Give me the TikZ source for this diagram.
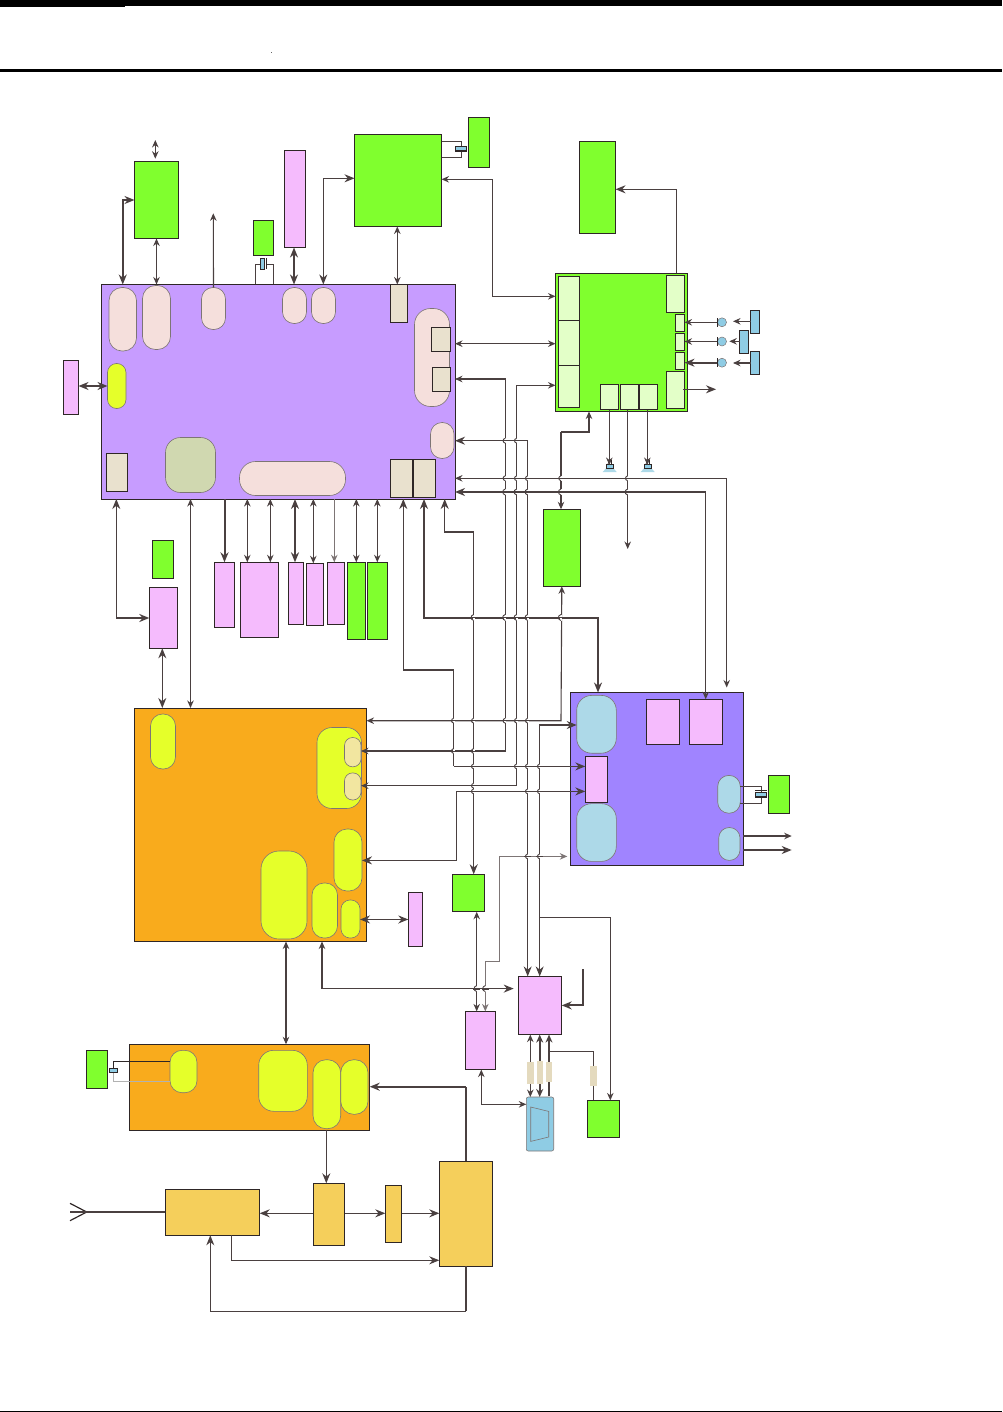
\documentclass[tikz,border=0pt]{standalone}
\usepackage{tikz}
\usepackage{xcolor}
\usetikzlibrary{arrows.meta}
\definecolor{wirecol}{RGB}{74,64,64}
\definecolor{softcol}{RGB}{125,117,117}
\definecolor{edgecol}{RGB}{46,38,38}
\definecolor{chipgreen}{RGB}{128,255,46}
\definecolor{palegreen}{RGB}{227,255,200}
\definecolor{chippink}{RGB}{245,187,253}
\definecolor{chippurple}{RGB}{199,156,255}
\definecolor{chipviolet}{RGB}{160,132,255}
\definecolor{chiporange}{RGB}{249,171,28}
\definecolor{rfyellow}{RGB}{245,207,91}
\definecolor{palerose}{RGB}{245,223,220}
\definecolor{beige}{RGB}{233,225,206}
\definecolor{tagbeige}{RGB}{228,218,190}
\definecolor{lime}{RGB}{229,255,42}
\definecolor{sage}{RGB}{208,216,176}
\definecolor{iceblue}{RGB}{173,217,232}
\definecolor{skyblue}{RGB}{143,204,228}
\definecolor{straw}{RGB}{242,230,160}
\tikzset{
  block/.style={rectangle, draw=edgecol, line width=1pt, inner sep=0pt, outer sep=0pt},
  blob/.style={rectangle, draw=softcol, line width=.6pt, rounded corners=#1, inner sep=0pt, outer sep=0pt},
  wire/.style={draw=wirecol, line width=1.1pt, >={Stealth[length=7.5pt,width=6.5pt]}},
  softwire/.style={wire, draw=softcol},
  bigtip/.style={>={Stealth[length=10pt,width=8pt]}},
  bus/.style={wire, line width=2pt, bigtip},
}
% #1 style, #2 name, then left, top, right, bottom
\newcommand{\chip}[6]{\node[#1, minimum width={(#5-#3)*1pt}, minimum height={(#6-#4)*1pt}] (#2) at ({(#3+#5)/2},{(#4+#6)/2}) {};}

\begin{document}
\begin{tikzpicture}[x=1pt,y=-1pt]
\useasboundingbox (0,0) rectangle (1002,1412);
% Page rules
\fill[black] (0,0) rectangle (1002,6);
\fill[black] (0,6) rectangle (125,6.5);
\fill[black] (0,69) rectangle (1002,72);
\fill[black] (0,1410.5) rectangle (1002,1412);
\fill[black!60] (270.5,52) rectangle (272,53.5);

% Main processor and its blobs
\chip{block, fill=chippurple}{proc}{101.5}{284.5}{455}{499}
\chip{blob=13, fill=palerose}{usbpill}{109}{287.5}{136.5}{351}
\chip{blob=13, fill=palerose}{uartpill}{142.5}{285.5}{170.5}{349.5}
\chip{blob=11.5, fill=palerose}{gpspill}{201.5}{287.5}{225.5}{329.5}
\chip{blob=11.5, fill=palerose}{campill}{282.5}{287.5}{306.5}{323.5}
\chip{blob=11.5, fill=palerose}{btpill}{311.5}{287.5}{335.5}{323.5}
\chip{block, fill=beige}{btport}{390.5}{284.5}{407.5}{322.5}
\chip{blob=16, fill=palerose}{sidepill}{414.5}{308.5}{449.5}{406.5}
\chip{block, fill=beige}{sideone}{431.5}{327.5}{450.5}{351.5}
\chip{block, fill=beige}{sidetwo}{432.5}{367.5}{450.5}{391.5}
\chip{blob=11.5, fill=palerose}{keypill}{430.5}{422.5}{454}{458.5}
\chip{block, fill=beige}{busone}{390.5}{459.5}{412.5}{497.5}
\chip{block, fill=beige}{bustwo}{413.5}{459.5}{435.5}{497.5}
\chip{blob=9, fill=lime}{simpill}{107.5}{363.5}{126}{408.5}
\chip{block, fill=beige}{rtcport}{106.5}{453.5}{127.5}{491.5}
\chip{blob=15, fill=sage}{corepill}{165.5}{437.5}{215.5}{492.5}
\chip{blob=16, fill=palerose}{mempill}{239.5}{461.5}{345.5}{495.5}

% Parts round the processor
\chip{block, fill=chipgreen}{usbchip}{134.5}{161.5}{178.5}{238.5}
\chip{block, fill=chipgreen}{clockchip}{253}{221}{273.5}{255.5}
\chip{block, fill=chippink}{camport}{284}{150.5}{305.5}{247.5}
\chip{block, fill=chipgreen}{btchip}{354.5}{134.5}{441.5}{226.5}
\chip{block, fill=chipgreen}{btclock}{468.5}{118}{489.5}{167.5}
\chip{block, fill=chippink}{simport}{63.5}{360.5}{78.5}{414.5}
\chip{block, fill=chipgreen}{ampchip}{579.5}{141.5}{615.5}{233.5}
\chip{block, fill=chipgreen}{fmchip}{543.3}{509.3}{580.3}{586.3}
\chip{block, fill=chipgreen}{rtcchip}{152.3}{540.3}{173.7}{578.7}
\chip{block, fill=chippink}{levelchip}{149.3}{587.3}{177.7}{648.3}
\chip{block, fill=chippink}{memone}{214.3}{562.3}{234.7}{627.3}
\chip{block, fill=chippink}{memtwo}{240.3}{562.3}{278.7}{637.3}
\chip{block, fill=chippink}{memthree}{288.3}{562.3}{303.7}{624.3}
\chip{block, fill=chippink}{memfour}{306.3}{563.3}{323.7}{625.3}
\chip{block, fill=chippink}{memfive}{327.3}{562.3}{344.7}{624.3}
\chip{block, fill=chipgreen}{flashone}{347.3}{562.3}{365.7}{639.3}
\chip{block, fill=chipgreen}{flashtwo}{367.3}{562.3}{387.3}{639.3}

% Audio block
\chip{block, fill=chipgreen}{audio}{555.5}{273.5}{687.5}{411.5}
\chip{block, fill=palegreen}{audleft}{558.5}{276.5}{579.5}{320.5}
\chip{block, fill=palegreen}{audmid}{558.5}{320.5}{579.5}{365}
\chip{block, fill=palegreen}{audlow}{558.5}{365}{579.5}{407.5}
\chip{block, fill=palegreen}{audtop}{666.5}{275.5}{684.5}{312.5}
\chip{block, fill=palegreen}{micone}{675.5}{314.5}{684.5}{331.5}
\chip{block, fill=palegreen}{mictwo}{675.5}{333.5}{684.5}{350.5}
\chip{block, fill=palegreen}{micthree}{675.5}{352.5}{684.5}{369.5}
\chip{block, fill=palegreen}{audout}{666.5}{371.5}{684.5}{408.5}
\chip{block, fill=palegreen}{spkone}{600.5}{384.5}{618.5}{409.5}
\chip{block, fill=palegreen}{spkmid}{620.5}{384.5}{638.5}{409.5}
\chip{block, fill=palegreen}{spktwo}{639.5}{384.5}{657.5}{409.5}
\chip{block, fill=skyblue}{jackone}{750.5}{310.3}{759.5}{333.3}
\chip{block, fill=skyblue}{jacktwo}{739.5}{330.3}{748.5}{353.3}
\chip{block, fill=skyblue}{jackthree}{750.5}{351.3}{759.5}{374.3}
\foreach \mname/\my in {mica/322.3, micb/341.5, micc/362.7} {
  \node[circle, draw=softcol, fill=skyblue, line width=.5pt, minimum size=9pt, inner sep=0pt, outer sep=0pt] (\mname) at (722,\my) {};
  \draw[edgecol, line width=1pt] (717.3,\my-4.5) -- (717.3,\my+4.5);
}
\foreach \sx in {609.7,647.7} {
  \fill[iceblue] (\sx-7,472) -- (\sx-3.7,468.3) -- (\sx+3.7,468.3) -- (\sx+7,472) -- cycle;
  \draw[edgecol, line width=.7pt, fill=skyblue] (\sx-3.7,464.3) rectangle (\sx+3.7,468.3);
  \draw[edgecol, line width=.7pt] (\sx-1.7,464.3) -- (\sx-.5,460) (\sx+1.7,464.3) -- (\sx+1.7,460);
}

% Second processor
\chip{block, fill=chiporange}{modem}{134.5}{708}{366.5}{941.5}
\chip{blob=12, fill=lime}{modemsim}{150.5}{714}{175.5}{769}
\chip{blob=15, fill=lime}{modemaud}{317}{727.5}{361.5}{808.5}
\chip{blob=8, fill=straw}{modemone}{344.5}{737.5}{361}{766.8}
\chip{blob=8, fill=straw}{modemtwo}{344.5}{772.9}{361}{800}
\chip{blob=13, fill=lime}{modemkey}{334}{829}{362}{891}
\chip{blob=18, fill=lime}{modemcore}{261}{851}{307}{939}
\chip{blob=12, fill=lime}{modemmem}{312}{883}{337.5}{938}
\chip{blob=9, fill=lime}{modemusb}{341}{900}{360}{938}
\chip{block, fill=chippink}{modemport}{408.3}{892.5}{422.7}{946.4}

% Radio
\chip{block, fill=chiporange}{radio}{129.3}{1044.3}{369.7}{1130.3}
\chip{blob=12, fill=lime}{radioclk}{170}{1050.3}{197}{1092.7}
\chip{blob=15, fill=lime}{radiocore}{258.7}{1050.3}{307.3}{1111.3}
\chip{blob=13, fill=lime}{radiotx}{313}{1059.7}{340.7}{1128.7}
\chip{blob=13, fill=lime}{radiorx}{340.7}{1059.7}{368}{1114.3}
\chip{block, fill=chipgreen}{radiotcxo}{86.3}{1050.3}{107.7}{1088.7}
\chip{block, fill=rfyellow}{frontend}{165.3}{1189.3}{259.7}{1235.3}
\chip{block, fill=rfyellow}{driver}{313.3}{1183.3}{344.7}{1245.7}
\chip{block, fill=rfyellow}{filter}{385.3}{1185.3}{401.7}{1242.3}
\chip{block, fill=rfyellow}{poweramp}{439.3}{1161.3}{492.7}{1266.3}

% Power block
\chip{block, fill=chipviolet}{power}{570.3}{692.5}{743.3}{865.4}
\chip{blob=15, fill=iceblue}{powerone}{576.7}{695.4}{616.3}{753.2}
\chip{blob=15, fill=iceblue}{powertwo}{576.7}{803.6}{616.3}{861.4}
\chip{block, fill=chippink}{powerport}{585.3}{756.4}{607.7}{802.5}
\chip{block, fill=chippink}{regone}{646.3}{699.3}{679.7}{744.6}
\chip{block, fill=chippink}{regtwo}{689.3}{699.3}{722.7}{744.6}
\chip{blob=11, fill=iceblue}{powerclk}{717.7}{775.4}{740.3}{813.2}
\chip{blob=10.5, fill=iceblue}{powerout}{718.7}{827.5}{740}{860.4}
\chip{block, fill=chipgreen}{powerxtal}{768.3}{775.4}{789.3}{813.6}

% Lower right parts
\chip{block, fill=chipgreen}{sensor}{452.3}{874.3}{484.7}{911.8}
\chip{block, fill=chippink}{sdswitch}{465.3}{1011.4}{495.7}{1069.6}
\chip{block, fill=chippink}{usbswitch}{518.3}{976.4}{561.7}{1034.6}
\chip{blob=2, fill=skyblue}{socket}{526.3}{1097}{553.7}{1151}
\chip{block, fill=chipgreen}{charger}{587.3}{1100.4}{619.3}{1137.5}
\draw[softcol, line width=.6pt] (530.7,1107) -- (548.7,1111.4) -- (548.7,1137) -- (530.7,1141.4) -- cycle;

% Connectors round the processor
\draw[wire,<->] (155.3,140) -- (155.3,158.7);
\draw[bus,<->] (usbpill.north |- proc.north) -- (usbpill.north |- usbchip.west) -- (usbchip.west);
\draw[wire,<->] (usbchip.south) -- (usbchip.south |- proc.north);
\draw[wire,->] (gpspill.north) -- (213.3,213.3);
\draw[bus,<->] (294,0 |- camport.south) -- (294,0 |- proc.north);
\draw[wire,bigtip,<->] (323.3,0 |- proc.north) -- (323.3,178.3) -- (323.3,178.3 -| btchip.west);
\draw[wire,<->] (397.3,0 |- btchip.south) -- (397.3,0 |- proc.north);
\draw[wire,<->] (btchip.east |- 0,179.3) -- (492.5,179.3) -- (492.5,296.3) -- (audio.west |- 0,296.3);
\draw[wire,<->] (proc.east |- 0,343.7) -- (audio.west |- 0,343.7);
\draw[wire,bigtip,->] (676.3,0 |- audio.north) -- (676.3,189.3) -- (ampchip.east |- 0,189.3);
\draw[bus,<->] (simport.east |- simpill.west) -- (simpill.west);
\draw[wire,bigtip,<-] (116.3,0 |- proc.south) -- (116.3,618) coordinate (levelknee);
\draw[bus,->] (levelknee) -- (levelchip.west |- levelknee);
\draw[wire,<->] (proc.south -| corepill.south) -- (modem.north -| corepill.south);
\draw[bus,->] (proc.south -| memone.north) -- (memone.north);
\foreach \bx/\bname in {247.3/memtwo, 270.3/memtwo, 313.3/memfour, 356.3/flashone, 377.3/flashtwo}
  \draw[wire,<->] (\bx,0 |- proc.south) -- (\bx,0 |- \bname.north);
\draw[bus,<->] (295,0 |- proc.south) -- (295,0 |- memthree.north);
\draw[softwire,->] (334.3,0 |- proc.south) -- (334.3,0 |- memfive.north);

% Crystals
\draw[wire] (255.3,0 |- proc.north) -- (255.3,264.3) -- (259.8,264.3);
\draw[wire] (273.3,0 |- proc.north) -- (273.3,264.3) -- (266.7,264.3);
\node[block, fill=skyblue, line width=.7pt, minimum width=4pt, minimum height=11pt] (xtalclock) at (262.7,263.8) {};
\draw[edgecol, line width=1pt] (266.7,258.3) -- (266.7,269.3);
\draw[wire] (btchip.east |- 0,141.3) -- (461.7,141.3) -- (461.7,146);
\draw[wire] (btchip.east |- 0,157.3) -- (461.7,157.3) -- (461.7,151.3);
\node[block, fill=skyblue, line width=.7pt, minimum width=11pt, minimum height=4pt] (xtalbt) at (461,148.3) {};
\draw[edgecol, line width=1pt] (455.3,151.3) -- (466.7,151.3);
\draw[wire] (powerclk.east |- 0,786.4) -- (761.7,786.4) -- (761.7,792);
\draw[wire] (powerclk.east |- 0,803.2) -- (761.7,803.2) -- (761.7,797);
\node[block, fill=skyblue, line width=.7pt, minimum width=11pt, minimum height=4pt] (xtalpower) at (761,794) {};
\draw[edgecol, line width=1pt] (755.3,790.5) -- (766.7,790.5) (755.3,797.5) -- (766.7,797.5);
\draw[edgecol, line width=.9pt] (radioclk.west |- 0,1061.3) -- (113.3,1061.3) -- (113.3,1068);
\draw[black!30, line width=.9pt] (radioclk.west |- 0,1081.3) -- (113.3,1081.3) -- (113.3,1072);
\node[block, fill=skyblue, line width=.7pt, minimum width=8pt, minimum height=3.5pt] (xtalradio) at (113.5,1070.3) {};

% Audio side connectors
\foreach \mname/\mchip/\my in {mica/micone/322.3, micb/mictwo/341.5}
  \draw[wire,->] (717.3,\my) -- (\mchip.east |- 0,\my);
\draw[bus,->] (717.3,362.7) -- (micthree.east |- 0,362.7);
\draw[wire,->] (jackone.west |- 0,321.3) -- (733,321.3);
\draw[wire,->] (jacktwo.west |- 0,341.3) -- (729.3,341.3);
\draw[wire,->] (jackthree.west |- 0,363) -- (733,363);
\draw[wire,bigtip,->] (683.3,389.3) -- (716,389.3);
\draw[wire,->] (609.3,0 |- spkone.south) -- (609.3,465);
\draw[wire,->] (647.3,0 |- spktwo.south) -- (647.3,465);
\coordinate (audiodrop) at (627.7,549);
\draw[wire,->] (audiodrop |- spkmid.south) -- (audiodrop);
\draw[wire,->] (561,432) -- (589,432) -- (589,0 |- audio.south);
\draw[wire,->] (561,432) -- (561,0 |- fmchip.north);

% Long bus lines
\draw[wire,<->] (proc.east |- 0,379) -- (505.3,379) -- (505.3,751) -- (modemone.east |- 0,751);
\draw[wire,<->] (audio.west |- 0,385.3) -- (516.7,385.3) -- (516.7,785.7) -- (modemtwo.east |- 0,785.7);
\draw[wire,bigtip,<->] (proc.east |- 0,440.7) -- (527.7,440.7) -- (527.7,0 |- usbswitch.north);
\draw[wire,<->,shorten >=5pt] (proc.east |- 0,478.3) -- (726.7,478.3) -- (726.7,0 |- power.north);
\draw[bus,<-] (proc.east |- 0,492) -- (705.7,492);
\draw[wire,->] (705.7,492) -- (705.7,0 |- regtwo.north);
\draw[wire,<->] (fmchip.south) -- (561,720.7) -- (modem.east |- 0,720.7);
\draw[wire,bigtip,<->] (powerone.west |- 0,725) -- (539.7,725) -- (539.7,0 |- usbswitch.north);
\draw[wire,bigtip,<-] (403.3,0 |- proc.south) -- (403.3,670) -- (453.7,670) -- (453.7,766.4);
\draw[wire,bigtip,->] (453.7,766.4) -- (powerport.west |- 0,766.4);
\draw[bus,<->] (424,0 |- proc.south) -- (424,617.5) -- (598,617.5) -- (598,0 |- power.north);
\draw[wire,bigtip,<->] (444.7,0 |- proc.south) -- (444.7,532) -- (473.7,532) -- (473.7,0 |- sensor.north);
\draw[wire,bigtip,<->] (modemkey.east |- 0,860.4) -- (456.7,860.4) -- (456.7,791.4) -- (powerport.west |- 0,791.4);
\draw[softwire,<->] (485.3,0 |- sdswitch.north) -- (485.3,961.4) -- (499.7,961.4) -- (499.7,856.4) -- (567.3,856.4);
\draw[wire,->] (539.7,917.5) -- (610.3,917.5) -- (610.3,0 |- charger.north);

% Connectors below the second processor
\draw[wire,bigtip,<->] (162.3,0 |- levelchip.south) -- (162.3,0 |- modem.north);
\draw[wire,bigtip,<->] (modemusb.east |- modemport.west) -- (modemport.west);
\draw[wire,<->] (476.7,0 |- sensor.south) -- (476.7,0 |- sdswitch.north);
\draw[bus,line width=1.6pt,->] (322,988.6) -- (513.7,988.6);
\draw[wire,->] (322,988.6) -- (322,0 |- modem.south);
\draw[wire,<->] (286,0 |- modem.south) -- (286,0 |- radio.north);
\coordinate (chargefeed) at (583,969);
\draw[bus,->] (chargefeed) -- (583,1005.4) -- (usbswitch.east |- 0,1005.4);
\draw[wire,<->] (530.3,0 |- usbswitch.south) -- (530.3,0 |- socket.north);
\draw[bus,line width=1.6pt,>={Stealth[length=8pt,width=7pt]},<->] (539.7,0 |- usbswitch.south) -- (539.7,0 |- socket.north);
\draw[bus,line width=1.6pt,>={Stealth[length=8pt,width=7pt]},<-] (549,0 |- usbswitch.south) -- (549,1096);
\draw[wire] (549,1051.4) -- (593.7,1051.4) -- (593.7,0 |- charger.north);
\draw[wire,<->] (481.3,0 |- sdswitch.south) -- (481.3,1104.3) -- (socket.west |- 0,1104.3);
% Beige tags sit on top of the wires
\chip{block, draw=none, fill=tagbeige}{tagone}{527}{1062}{534}{1084}
\chip{block, draw=none, fill=tagbeige}{tagtwo}{537}{1061}{543}{1084}
\chip{block, draw=none, fill=tagbeige}{tagthree}{546}{1062}{552}{1082}
\chip{block, draw=none, fill=tagbeige}{tagfour}{590}{1066}{597}{1086}

% Power outputs
\draw[wire,->] (power.east |- 0,836) -- (791.7,836);
\draw[bus,line width=1.6pt,->] (power.east |- 0,850) -- (791.7,850);

% RF chain
\draw[bus] (poweramp.north) -- (466,1086.7);
\draw[bus,->] (466,1086.7) -- (radio.east |- 0,1086.7);
\draw[wire,bigtip,->] (326.3,0 |- radio.south) -- (326.3,0 |- driver.north);
\draw[wire,bigtip,->] (driver.west |- 0,1213.3) -- (frontend.east |- 0,1213.3);
\draw[wire,bigtip,->] (driver.east |- 0,1213.3) -- (filter.west |- 0,1213.3);
\draw[wire,bigtip,->] (filter.east |- 0,1213.3) -- (poweramp.west |- 0,1213.3);
\draw[wire,bigtip,->] (231.7,0 |- frontend.south) -- (231.7,1260.3) -- (poweramp.west |- 0,1260.3);
\draw[bus] (poweramp.south) -- (466,1311.3);
\draw[wire,bigtip,->] (466,1311.3) -- (210.3,1311.3) -- (210.3,0 |- frontend.south);
\coordinate (aerial) at (86.7,1212);
\draw[edgecol, line width=1.2pt] (70,1203.3) -- (aerial) -- (70,1220.7);
\draw[bus] (70,1212) -- (frontend.west |- aerial);

% Hops where lines cross
\foreach \jx/\jy in {505.3/440.7, 516.7/440.7,
  505.3/478.3, 516.7/478.3, 527.7/478.3, 561/478.3, 627.7/478.3,
  453.7/720.7, 473.7/720.7, 505.3/720.7, 516.7/720.7, 527.7/720.7,
  453.7/751, 473.7/751,
  473.7/766.4, 516.7/766.4, 527.7/766.4, 539.7/766.4,
  473.7/785.7, 473.7/791.4, 527.7/791.4, 539.7/791.4,
  527.7/856.4, 539.7/856.4} {
  \draw[white, line width=1.7pt] (\jx,\jy-2.5) -- (\jx,\jy+2.5);
  \draw[wire, line width=1pt] (\jx-3.5,\jy) -- (\jx+3.5,\jy);
  \draw[wire, line width=.9pt] (\jx,\jy-2.5) .. controls (\jx-3,\jy-1.5) and (\jx-3,\jy+1.5) .. (\jx,\jy+2.5);
}
\foreach \jx/\jy in {505.3/492, 516.7/492, 527.7/492, 561/492, 627.7/492,
  473.7/617.5, 505.3/617.5, 516.7/617.5, 527.7/617.5, 561/617.5,
  476.7/988.6, 485.3/988.6} {
  \draw[white, line width=1.7pt] (\jx,\jy-3) -- (\jx,\jy+3);
  \draw[wire, line width=1.9pt] (\jx-3.5,\jy) -- (\jx+3.5,\jy);
  \draw[wire, line width=.9pt] (\jx,\jy-3) .. controls (\jx-3.5,\jy-2) and (\jx-3.5,\jy+2) .. (\jx,\jy+3);
}
\end{tikzpicture}
\end{document}
